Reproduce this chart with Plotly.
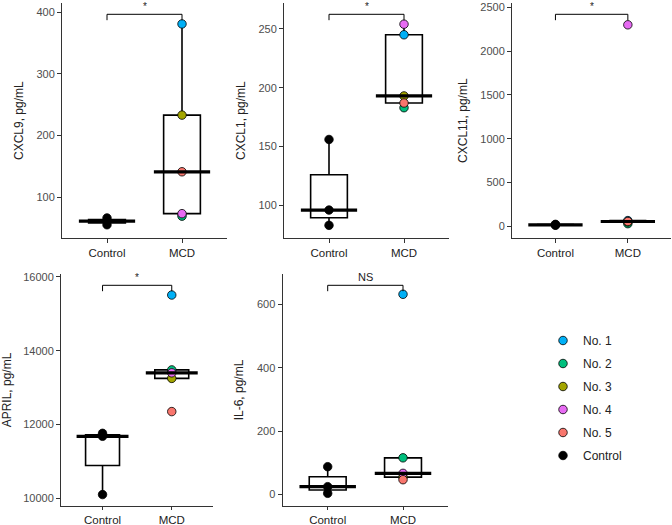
import numpy as np
import plotly.graph_objects as go

# ---------------- data ----------------
groups = ["Control", "MCD"]
patients = ["No. 1", "No. 2", "No. 3", "No. 4", "No. 5"]
patient_colors = ["#00B0F6", "#00BF7D", "#A3A500", "#E76BF3", "#F8766D"]

titles = ["CXCL9, pg/mL", "CXCL1, pg/mL", "CXCL11, pg/mL", "APRIL, pg/mL", "IL-6, pg/mL"]
signif = ["*", "*", "*", "*", "NS"]

cxcl9_control = [55, 61, 66]
cxcl9_mcd = [381, 69, 233, 73, 141]
cxcl1_control = [83, 96, 156]
cxcl1_mcd = [245, 183, 193, 254, 187]
cxcl11_control = [12, 16, 22]
cxcl11_mcd = [65, 30, 50, 2300, 55]
april_control = [10100, 11680, 11760]
april_mcd = [15510, 13480, 13250, 13400, 12350]
il6_control = [4, 25, 88]
il6_mcd = [632, 116, 55, 67, 47]

control_sets = [cxcl9_control, cxcl1_control, cxcl11_control, april_control, il6_control]
mcd_sets = [cxcl9_mcd, cxcl1_mcd, cxcl11_mcd, april_mcd, il6_mcd]

# ---------------- layout geometry ----------------
W, H = 672, 525
px_domains = [  # (x0, x1, ytop, ybottom) in pixels
    (62, 227, 3, 238.3),
    (284, 449, 3, 238.3),
    (512, 671.3, 3, 238.3),
    (61, 213.3, 274, 506),
    (282.5, 448.2, 274, 506),
]
y_ranges = [[33, 415], [72, 272], [-137, 2549], [9790, 16080], [-36, 696]]
y_dticks = [100, 50, 500, 2000, 200]

AX = "#333333"
TICKC = "#4D4D4D"
FONT = "Liberation Sans, Arial, sans-serif"

fig = go.Figure()
shapes = []
annotations = []
layout = {}

for k in range(5):
    ax = "" if k == 0 else str(k + 1)
    xa, ya = "x" + ax, "y" + ax
    ctrl, mcd = control_sets[k], mcd_sets[k]
    xs = [groups[0]] * len(ctrl) + [groups[1]] * len(mcd)
    ys = list(ctrl) + list(mcd)
    fig.add_trace(go.Box(
        x=xs, y=ys, xaxis=xa, yaxis=ya,
        boxpoints="outliers", quartilemethod="inclusive",
        marker=dict(size=0.1, opacity=0, color="rgba(0,0,0,0)"),
        fillcolor="white", line=dict(color="black", width=1.6),
        whiskerwidth=0, showlegend=False, hoverinfo="skip",
    ))
    # thick median lines computed from data
    for gi, vals in enumerate([ctrl, mcd]):
        med = float(np.median(vals))
        shapes.append(dict(type="line", xref=xa, yref=ya,
                           x0=gi - 0.375, x1=gi + 0.375, y0=med, y1=med,
                           line=dict(color="black", width=3.2), layer="above"))
    # patient points
    for pi, name in enumerate(patients):
        fig.add_trace(go.Scatter(
            x=[groups[1]], y=[mcd[pi]], xaxis=xa, yaxis=ya,
            mode="markers", name=name, legendgroup=name,
            showlegend=(k == 0),
            marker=dict(color=patient_colors[pi], size=8.5,
                        line=dict(color="black", width=0.8)),
        ))
    fig.add_trace(go.Scatter(
        x=[groups[0]] * len(ctrl), y=ctrl, xaxis=xa, yaxis=ya,
        mode="markers", name="Control", legendgroup="Control",
        showlegend=(k == 0),
        marker=dict(color="black", size=8.5, line=dict(color="black", width=0.8)),
    ))
    # significance bracket
    x0, x1, yt, ybm = px_domains[k]
    hpx = ybm - yt
    yb = 1 - 11.3 / hpx
    yl = 1 - 17.2 / hpx
    dref = ya + " domain"
    shapes.append(dict(type="line", xref=xa, yref=dref, x0=0, x1=1, y0=yb, y1=yb,
                       line=dict(color="black", width=1)))
    for gx in (0, 1):
        shapes.append(dict(type="line", xref=xa, yref=dref, x0=gx, x1=gx, y0=yb, y1=yl,
                           line=dict(color="black", width=1)))
    annotations.append(dict(xref=xa, yref=dref, x=0.5, y=yb, yanchor="bottom",
                            text=signif[k], showarrow=False,
                            font=dict(size=10 if signif[k] == "*" else 11,
                                      color="#222", family=FONT)))

    bottom_row = k >= 3
    layout["xaxis" + ax] = dict(
        domain=[x0 / W, x1 / W], anchor=ya, type="category",
        categoryorder="array", categoryarray=groups,
        range=[-0.6, 1.6], showline=True, linecolor=AX, linewidth=1,
        ticks="outside", ticklen=3 if bottom_row else 4, tickcolor=AX, tickwidth=1,
        tickfont=dict(size=11.5, color="#222", family=FONT),
        showgrid=False, zeroline=False, fixedrange=True, automargin=False,
    )
    layout["yaxis" + ax] = dict(
        domain=[(H - ybm) / H, (H - yt) / H], anchor=xa,
        range=y_ranges[k], tick0=0, dtick=y_dticks[k], tickformat="d",
        showline=True, linecolor=AX, linewidth=1,
        ticks="outside", ticklen=4, tickcolor=AX, tickwidth=1,
        tickfont=dict(size=11, color=TICKC, family=FONT),
        title=dict(text=titles[k], font=dict(size=12, color="#222", family=FONT),
                   standoff=10),
        showgrid=False, zeroline=False, fixedrange=True, automargin=False,
    )

fig.update_layout(
    width=W, height=H,
    margin=dict(l=0, r=0, t=0, b=0, pad=0, autoexpand=False),
    paper_bgcolor="white", plot_bgcolor="white",
    font=dict(family=FONT, color="#222"),
    shapes=shapes, annotations=annotations,
    legend=dict(x=543 / W, y=(H - 326) / H, xanchor="left", yanchor="top",
                font=dict(size=12, color="#222", family=FONT),
                tracegroupgap=4, bgcolor="rgba(0,0,0,0)"),
    **layout,
)

fig.write_html("out.html", config={"displayModeBar": False},
               post_script="document.body.style.margin='0px';document.body.style.overflow='hidden';")
